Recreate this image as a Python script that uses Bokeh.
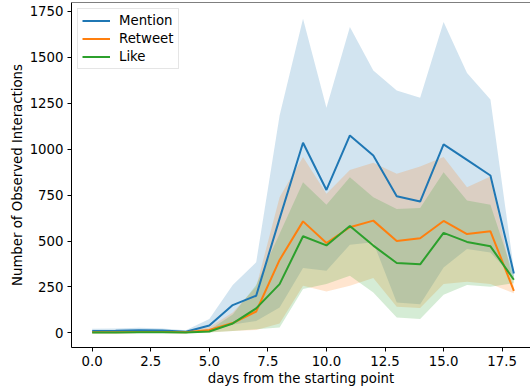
from bokeh.plotting import figure
from bokeh.models import ColumnDataSource, FixedTicker, NumeralTickFormatter, Range1d, Legend, LegendItem, Span
from bokeh.embed import file_html
from bokeh.resources import INLINE

days = list(range(19))

mention = [10, 11, 14, 12, 6, 40, 151, 202, 622, 1035, 778, 1075, 966, 744, 715, 1026, 942, 857, 323]
mention_hi = [22, 24, 28, 24, 14, 75, 260, 384, 1184, 1711, 1226, 1666, 1429, 1320, 1280, 1693, 1415, 1271, 345]
mention_lo = [0, 0, 2, 1, 0, 8, 45, 65, 138, 353, 338, 480, 493, 165, 156, 356, 457, 438, 300]

retweet = [3, 3, 4, 4, 3, 15, 53, 116, 397, 607, 489, 575, 611, 500, 515, 609, 538, 553, 229]
retweet_hi = [6, 6, 8, 8, 6, 30, 110, 250, 738, 958, 758, 887, 926, 866, 906, 957, 793, 851, 250]
retweet_lo = [0, 0, 1, 1, 0, 3, 10, 15, 51, 256, 225, 256, 298, 142, 135, 266, 278, 266, 215]

like = [2, 2, 3, 3, 2, 7, 51, 133, 265, 526, 476, 582, 475, 380, 373, 544, 495, 471, 289]
like_hi = [4, 4, 5, 5, 4, 15, 100, 260, 540, 820, 698, 847, 738, 675, 680, 875, 720, 698, 310]
like_lo = [0, 0, 1, 1, 0, 2, 10, 20, 29, 238, 266, 311, 220, 84, 75, 207, 260, 251, 270]

series_names = ["Mention", "Retweet", "Like"]
colors = ["#1f77b4", "#ff7f0e", "#2ca02c"]

x_ticks = [0, 2.5, 5, 7.5, 10, 12.5, 15, 17.5]
y_ticks = [0, 250, 500, 750, 1000, 1250, 1500, 1750]

FONT = "DejaVu Sans"
FS = "13.3px"
Y_END = 1799

p = figure(width=530, height=392, output_backend="svg", toolbar_location=None,
           x_range=Range1d(-0.883, 18.71), y_range=Range1d(-80, Y_END),
           min_border_left=71, min_border_right=0, min_border_top=2, min_border_bottom=45)
p.outline_line_color = None
p.grid.visible = False
p.background_fill_color = "white"
p.border_fill_color = "white"

data = [(mention, mention_lo, mention_hi), (retweet, retweet_lo, retweet_hi), (like, like_lo, like_hi)]
lines = []
for (ys, lo, hi), c in zip(data, colors):
    src = ColumnDataSource(dict(x=days, y=ys, lo=lo, hi=hi))
    p.varea(x="x", y1="lo", y2="hi", source=src, fill_color=c, fill_alpha=0.2)
for (ys, lo, hi), c in zip(data, colors):
    src = ColumnDataSource(dict(x=days, y=ys))
    r = p.line(x="x", y="y", source=src, line_color=c, line_width=2)
    lines.append(r)

top = Span(location=Y_END, dimension="width", line_color="black", line_width=1)
p.add_layout(top)

for ax in (p.xaxis[0], p.yaxis[0]):
    ax.axis_line_color = "black"
    ax.axis_line_width = 1
    ax.major_tick_line_color = "black"
    ax.major_tick_out = 4
    ax.major_tick_in = 0
    ax.minor_tick_line_color = None
    ax.major_label_text_font = FONT
    ax.major_label_text_font_size = FS
    ax.major_label_text_color = "black"
    ax.axis_label_text_font = FONT
    ax.axis_label_text_font_size = FS
    ax.axis_label_text_font_style = "normal"
    ax.axis_label_text_color = "black"
    ax.major_label_standoff = 4

p.xaxis[0].ticker = FixedTicker(ticks=x_ticks)
p.xaxis[0].formatter = NumeralTickFormatter(format="0.0")
p.yaxis[0].ticker = FixedTicker(ticks=y_ticks)
p.xaxis[0].axis_label = "days from the starting point"
p.yaxis[0].axis_label = "Number of Observed Interactions"
p.xaxis[0].axis_label_standoff = 2
p.yaxis[0].axis_label_standoff = 2

legend = Legend(items=[LegendItem(label=n, renderers=[r]) for n, r in zip(series_names, lines)],
                location=(6, 278))
legend.label_text_font = FONT
legend.label_text_font_size = FS
legend.label_text_color = "black"
legend.glyph_width = 28
legend.glyph_height = 13
legend.label_height = 13
legend.label_standoff = 9
legend.spacing = 3
legend.padding = 4
legend.margin = 0
legend.border_line_color = "#cccccc"
legend.border_line_width = 1
legend.background_fill_alpha = 0.8
p.add_layout(legend)

open("out.html", "w").write(file_html(p, INLINE))
